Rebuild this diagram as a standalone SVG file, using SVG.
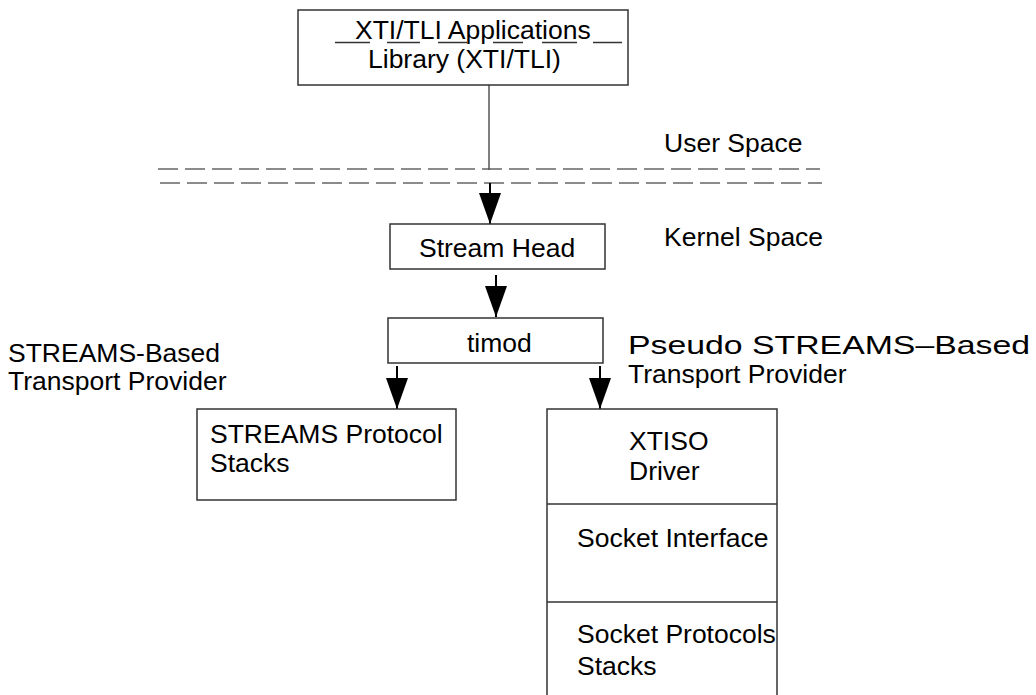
<svg xmlns="http://www.w3.org/2000/svg" width="1036" height="695" viewBox="0 0 1036 695">
  <style>
    .box { fill: #ffffff; stroke: #333333; stroke-width: 1.5; }
    .lbl { font-family: "Liberation Sans", Arial, sans-serif; font-size: 26.5px; fill: #000000; }
    .dash { stroke: #666666; stroke-width: 1.5; stroke-dasharray: 20 7; fill: none; }
    .arrow { stroke: #000000; stroke-width: 2; fill: none; marker-end: url(#head); }
    .ul { stroke: #333333; stroke-width: 1.5; }
  </style>
  <defs>
    <marker id="head" markerUnits="userSpaceOnUse" markerWidth="31" markerHeight="22" viewBox="0 0 31 22" refX="31" refY="11" orient="auto">
      <path d="M0,0 L31,11 L0,22 Z" fill="#000000"/>
    </marker>
  </defs>

  <rect width="1036" height="695" fill="#ffffff"/>

  <!-- user / kernel boundary -->
  <g id="boundary">
    <line class="dash" x1="158" y1="169" x2="820" y2="169"/>
    <line class="dash" x1="160" y1="183" x2="822" y2="183"/>
  </g>

  <g id="connectors">
    <line x1="489" y1="85" x2="489" y2="170" stroke="#555555" stroke-width="1.5"/>
    <line class="arrow" x1="490" y1="183" x2="490" y2="224"/>
    <line class="arrow" x1="496" y1="275" x2="496" y2="317"/>
    <line class="arrow" x1="397" y1="366" x2="397" y2="409"/>
    <line class="arrow" x1="600" y1="366" x2="600" y2="409"/>
  </g>

  <g id="applications">
    <rect class="box" x="298" y="10" width="330" height="75"/>
    <text class="lbl" x="355" y="39">XTI/TLI Applications</text>
    <line class="ul" x1="335" y1="42.5" x2="370" y2="42.5"/>
    <line class="ul" x1="387" y1="42.5" x2="420" y2="42.5"/>
    <line class="ul" x1="438" y1="42.5" x2="467" y2="42.5"/>
    <line class="ul" x1="493" y1="42.5" x2="523" y2="42.5"/>
    <line class="ul" x1="542" y1="42.5" x2="577" y2="42.5"/>
    <line class="ul" x1="593" y1="42.5" x2="622" y2="42.5"/>
    <text class="lbl" x="368" y="68">Library (XTI/TLI)</text>
  </g>

  <g id="space-labels">
    <text class="lbl" x="664" y="152">User Space</text>
    <text class="lbl" x="664" y="246">Kernel Space</text>
  </g>

  <g id="stream-head">
    <rect class="box" x="390" y="224" width="215" height="45"/>
    <text class="lbl" x="419" y="257">Stream Head</text>
  </g>

  <g id="timod">
    <rect class="box" x="388" y="318" width="215" height="45"/>
    <text class="lbl" x="467" y="352">timod</text>
  </g>

  <g id="streams-provider-label">
    <text class="lbl" x="8" y="362">STREAMS-Based</text>
    <text class="lbl" x="8" y="390">Transport Provider</text>
  </g>

  <g id="pseudo-provider-label">
    <text class="lbl" x="628" y="354" textLength="402" lengthAdjust="spacingAndGlyphs">Pseudo STREAMS–Based</text>
    <text class="lbl" x="628" y="383">Transport Provider</text>
  </g>

  <g id="streams-stacks">
    <rect class="box" x="197" y="409" width="259" height="91"/>
    <text class="lbl" x="210" y="443">STREAMS Protocol</text>
    <text class="lbl" x="210" y="472">Stacks</text>
  </g>

  <g id="xtiso">
    <rect class="box" x="547" y="409" width="230" height="300"/>
    <line x1="547" y1="504" x2="777" y2="504" stroke="#333333" stroke-width="1.5"/>
    <line x1="547" y1="602" x2="777" y2="602" stroke="#333333" stroke-width="1.5"/>
    <text class="lbl" x="629" y="450">XTISO</text>
    <text class="lbl" x="629" y="480">Driver</text>
    <text class="lbl" x="577" y="547">Socket Interface</text>
    <text class="lbl" x="577" y="643">Socket Protocols</text>
    <text class="lbl" x="577" y="675">Stacks</text>
  </g>
</svg>
